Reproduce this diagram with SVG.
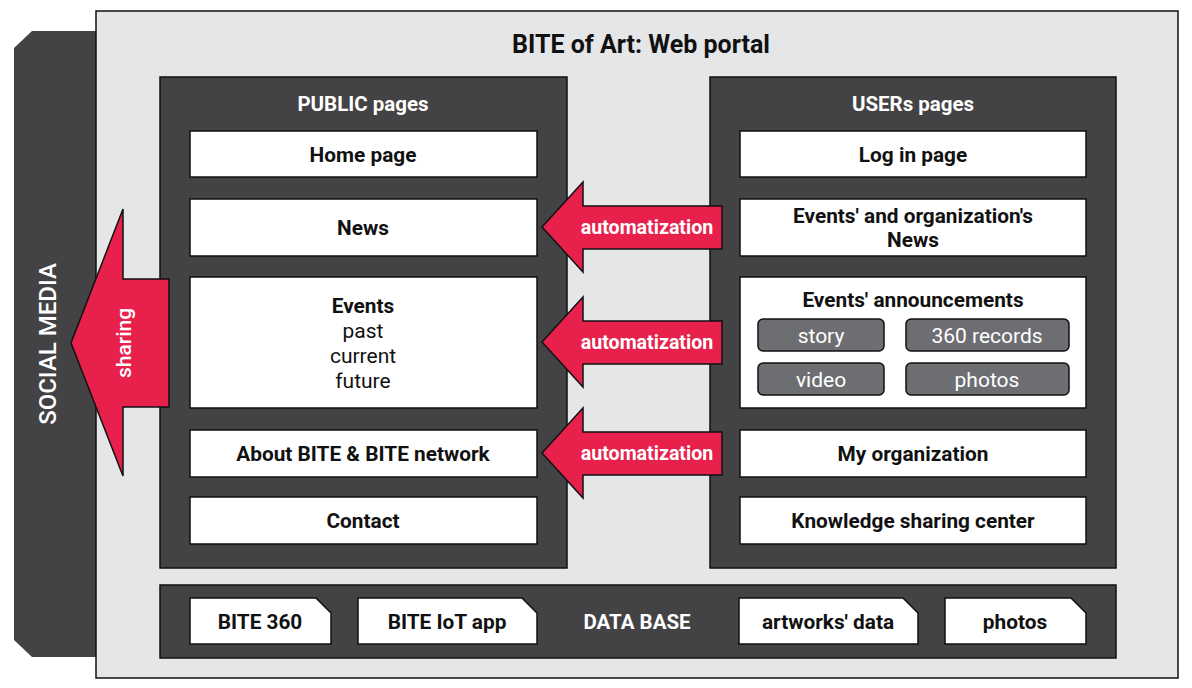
<svg xmlns="http://www.w3.org/2000/svg" width="1192" height="688" viewBox="0 0 1192 688">
<style>
text{font-family:Roboto,"Liberation Sans",sans-serif;}
.panel{fill:#434345;stroke:#111;stroke-width:1.5;}
.box{fill:#fff;stroke:#111;stroke-width:1.5;}
.sub{fill:#6d6e71;stroke:#111;stroke-width:1.5;}
.red{fill:#e8204c;stroke:#111;stroke-width:1.5;stroke-linejoin:miter;}
.b{font-weight:bold;font-size:20.8px;fill:#111;text-anchor:middle;}
.r{font-size:21px;fill:#111;text-anchor:middle;}
.w{font-weight:bold;font-size:20.5px;fill:#fff;text-anchor:middle;}
.a{font-weight:bold;font-size:19.6px;fill:#fff;text-anchor:middle;}
.s{font-size:21px;fill:#fff;text-anchor:middle;}
</style>
<g id="social-media">
<path d="M14,48 L32,31 L110,31 L110,657 L32,657 L14,640 Z" fill="#434345"/>
<text x="50" y="344" class="s" transform="rotate(-90 50 344)" dominant-baseline="middle" style="font-size:24px;font-weight:500">SOCIAL MEDIA</text>
</g>
<g id="web-portal">
<rect x="96" y="11" width="1082" height="667" fill="#e5e6e8" stroke="#111" stroke-width="1.5"/>
<text x="641" y="53" class="b" style="font-size:25px">BITE of Art: Web portal</text>
</g>
<g id="public-pages">
<rect class="panel" x="160" y="77" width="407" height="491"/>
<text x="363" y="111" class="w">PUBLIC pages</text>
</g>
<g id="users-pages">
<rect class="panel" x="710" y="77" width="406" height="491"/>
<text x="913" y="111" class="w">USERs pages</text>
</g>
<g id="home-page"><rect class="box" x="190" y="131" width="347" height="46"/><text x="363" y="162" class="b">Home page</text></g>
<g id="news"><rect class="box" x="190" y="199" width="347" height="57"/><text x="363" y="235" class="b">News</text></g>
<g id="events"><rect class="box" x="190" y="277" width="347" height="131"/>
<text x="363" y="313" class="b">Events</text>
<text x="363" y="338" class="r">past</text>
<text x="363" y="363" class="r">current</text>
<text x="363" y="388" class="r">future</text></g>
<g id="about"><rect class="box" x="190" y="430" width="347" height="47"/><text x="363" y="461" class="b">About BITE &amp; BITE network</text></g>
<g id="contact"><rect class="box" x="190" y="497" width="347" height="47"/><text x="363" y="528" class="b">Contact</text></g>
<g id="login"><rect class="box" x="740" y="131" width="346" height="46"/><text x="913" y="162" class="b">Log in page</text></g>
<g id="events-news"><rect class="box" x="740" y="199" width="346" height="57"/>
<text x="913" y="223" class="b">Events' and organization's</text>
<text x="913" y="247" class="b">News</text></g>
<g id="events-announcements"><rect class="box" x="740" y="277" width="346" height="131"/>
<text x="913" y="307" class="b">Events' announcements</text>
<rect class="sub" x="758" y="319" width="126" height="32" rx="5"/><text x="821" y="343" class="s">story</text>
<rect class="sub" x="906" y="319" width="163" height="32" rx="5"/><text x="987" y="343" class="s">360 records</text>
<rect class="sub" x="758" y="363" width="126" height="32" rx="5"/><text x="821" y="387" class="s">video</text>
<rect class="sub" x="906" y="363" width="163" height="32" rx="5"/><text x="987" y="387" class="s">photos</text></g>
<g id="my-organization"><rect class="box" x="740" y="430" width="346" height="47"/><text x="913" y="461" class="b">My organization</text></g>
<g id="knowledge"><rect class="box" x="740" y="497" width="346" height="47"/><text x="913" y="528" class="b">Knowledge sharing center</text></g>
<g id="data-base">
<rect class="panel" x="160" y="585" width="956" height="73"/>
<text x="637" y="629" class="w">DATA BASE</text>
<path class="box" d="M190,598 L316,598 L331,613 L331,644 L190,644 Z"/><text x="260" y="629" class="b">BITE 360</text>
<path class="box" d="M358,598 L522,598 L537,613 L537,644 L358,644 Z"/><text x="447" y="629" class="b">BITE IoT app</text>
<path class="box" d="M739,598 L903,598 L918,613 L918,644 L739,644 Z"/><text x="828" y="629" class="b">artworks' data</text>
<path class="box" d="M945,598 L1071,598 L1086,613 L1086,644 L945,644 Z"/><text x="1015" y="629" class="b">photos</text>
</g>
<g id="connectors">
<path class="red" d="M169,279 L123,279 L123,209 L71,343 L123,476 L123,407 L169,407 Z"/>
<text x="125" y="343" class="s" transform="rotate(-90 125 343)" dominant-baseline="middle" style="font-size:21px;font-weight:500">sharing</text>
<path class="red" d="M722,206 L583,206 L583,182 L542,227 L583,272 L583,249 L722,249 Z"/>
<text x="647" y="234" class="a">automatization</text>
<path class="red" d="M722,321 L583,321 L583,297 L542,342 L583,387 L583,364 L722,364 Z"/>
<text x="647" y="349" class="a">automatization</text>
<path class="red" d="M722,432 L583,432 L583,408 L542,453 L583,498 L583,475 L722,475 Z"/>
<text x="647" y="460" class="a">automatization</text>
</g>
</svg>
